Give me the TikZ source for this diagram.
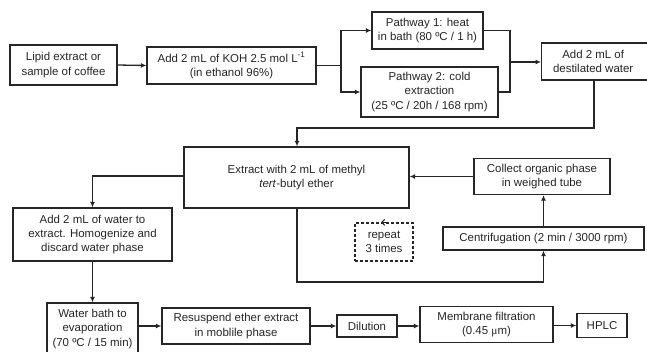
\documentclass[tikz,border=0pt]{standalone}
\usepackage{fontspec}
\setmainfont{Liberation Sans}
\newfontfamily\symfont{Liberation Serif}
\usetikzlibrary{arrows.meta,calc}
\definecolor{ink}{HTML}{262626}
\tikzset{
  box/.style={draw=ink,line width=1.3bp,align=center,inner sep=1bp,font=\fontsize{11.5}{14.5}\selectfont,text=ink},
  arr/.style={draw=ink,line width=1.3bp,-{Latex[length=5.5bp,width=5bp]}},
  ln/.style={draw=ink,line width=1.3bp},
}
\begin{document}
\begin{tikzpicture}[x=1bp,y=-1bp]
\useasboundingbox (0,0) rectangle (647,351);
\fill[white] (0,0) rectangle (647,351);
% nodes
\node[box,minimum width=107bp,minimum height=40bp] (lipid) at (63.5,65) {Lipid extract or\\sample of coffee};
\node[box,minimum width=169bp,minimum height=37bp] (koh) at (231.5,65.5) {Add 2 mL of KOH 2.5 mol L\textsuperscript{-1}\\(in ethanol 96\%)};
\node[box,minimum width=111bp,minimum height=37bp] (p1) at (427.5,30.5) {Pathway 1: heat\\in bath (80 ºC / 1 h)};
\node[box,minimum width=137bp,minimum height=50bp] (p2) at (429.5,92) {Pathway 2: cold\\extraction\\(25 ºC / 20h / 168 rpm)};
\node[box,minimum width=110bp,minimum height=37bp,anchor=west] (dw) at (541,61.5) {\hspace*{-7bp}Add 2 mL of\\\hspace*{-7bp}destilated water};
\node[box,minimum width=225bp,minimum height=61bp] (ext) at (296.5,177.5) {Extract with 2 mL of methyl\\\textit{tert}-butyl ether};
\node[box,minimum width=136bp,minimum height=36bp] (coll) at (542,176.5) {Collect organic phase\\in weighed tube};
\node[box,minimum width=201bp,minimum height=23bp] (cent) at (543.5,238.5) {Centrifugation (2 min / 3000 rpm)};
\node[box,dash pattern=on 3bp off 2bp,minimum width=58bp,minimum height=38bp] (rep) at (384,242) {repeat\\3 times};
\node[box,minimum width=159bp,minimum height=53bp] (addw) at (92.5,234.5) {Add 2 mL of water to\\extract. Homogenize and\\discard water phase};
\node[box,minimum width=91bp,minimum height=52bp] (wb) at (92.5,329) {Water bath to\\evaporation\\(70 ºC / 15 min)};
\node[box,minimum width=148bp,minimum height=36bp] (res) at (236,326) {Resuspend ether extract\\in moblile phase};
\node[box,minimum width=60bp,minimum height=22bp] (dil) at (367,326) {Dilution};
\node[box,minimum width=133bp,minimum height=36bp] (mem) at (486.5,324.5) {Membrane filtration\\(0.45 {\symfont μ}m)};
\node[box,minimum width=50bp,minimum height=24bp] (hplc) at (602,325.5) {HPLC};
% coordinates
\coordinate (split) at (341,65.5);
\coordinate (merge) at (510,62);
\coordinate (t1) at (297,128);
\coordinate (b1) at (297,282);
% connectors
\draw[arr] (lipid.east) -- (koh.west);
\draw[ln] (koh.east) -- (split);
\draw[arr] (split) |- (p1.west);
\draw[arr] (split) |- (p2.west);
\draw[ln] (p1.east) -| (merge);
\draw[ln] (p2.east) -| (merge);
\draw[arr] (merge) -- (merge -| dw.west);
\draw[arr] (dw.south -| 594,0) |- (t1) -- (t1 |- ext.north);
\draw[arr] (coll.west) -- (coll.west -| ext.east);
\draw[arr] (cent.north) -- (coll.south -| cent.north);
\draw[arr] (b1 |- ext.south) -- (b1) -| (cent.south);
\draw[arr] (ext.west |- 0,176) -| (addw.north);
\draw[arr] (addw.south) -- (wb.north);
\draw[arr] (res.west -| wb.east) -- (res.west);
\draw[arr] (res.east) -- (dil.west);
\draw[arr] (dil.east) -- (dil.east -| mem.west);
\draw[arr] (mem.east |- hplc.west) -- (hplc.west);
\draw[draw=ink,line width=1bp,-{Straight Barb[length=3bp,width=6bp]}] ($(rep.north)+(4,0)$) -- ($(rep.north)+(-3,0)$);
\end{tikzpicture}
\end{document}
